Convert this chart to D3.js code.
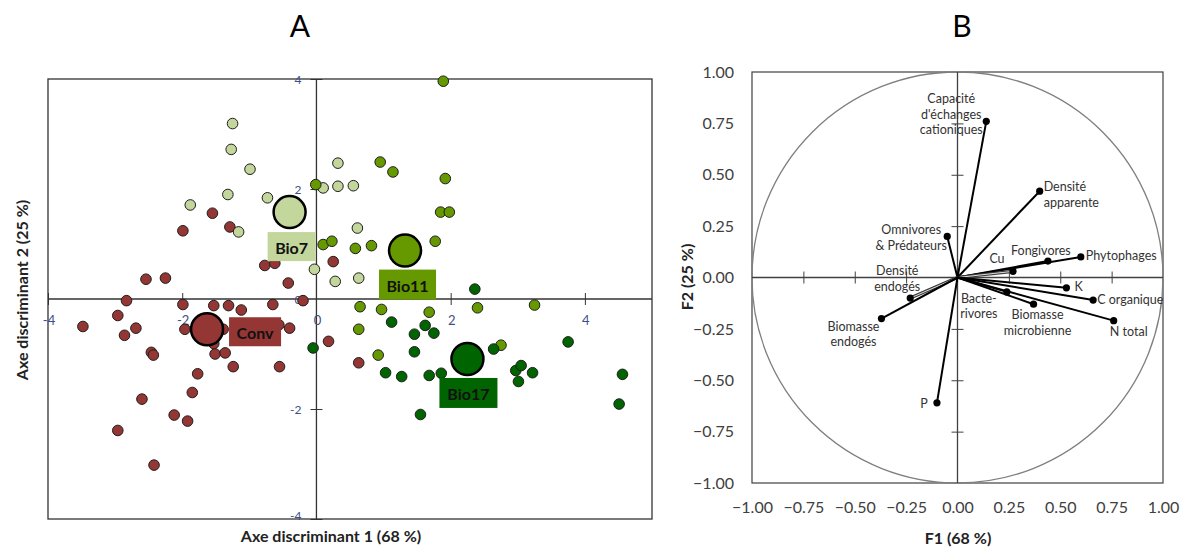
<!DOCTYPE html>
<html lang="fr">
<head>
<meta charset="utf-8">
<title>AFD / ACP</title>
<script src="https://cdn.jsdelivr.net/npm/d3@7"></script>
<style>
  body { margin: 0; background: #fff; }
  text { font-family: Lato, "Open Sans", sans-serif; }
</style>
</head>
<body>
<script>
// ---- data, panel A (discriminant scores) ----
var groups = ["Conv", "Bio7", "Bio11", "Bio17"];

var convPts = [[-1.55,1.56],[-1.29,1.31],[-1.99,1.24],[-0.77,0.61],[-0.62,0.65],[0.25,0.68],[-0.42,0.29],
  [-2.54,0.36],[-2.25,0.38],[-2.83,-0.03],[-1.99,-0.10],[-1.53,-0.12],[-1.31,-0.12],[-1.12,-0.20],[-0.65,-0.10],
  [-0.20,-0.03],[-2.96,-0.30],[-3.48,-0.50],[-2.69,-0.53],[-2.86,-0.66],[-1.96,-0.55],[-1.39,-0.55],[-1.53,-0.81],
  [-0.56,-0.47],[-0.40,-0.53],[0.18,-0.77],[-2.46,-0.97],[-2.43,-1.02],[-1.51,-1.00],[-1.36,-0.98],[-1.24,-1.23],
  [-0.55,-1.23],[-1.77,-1.36],[-1.85,-1.70],[-2.60,-1.82],[-2.12,-2.11],[-1.92,-2.22],[-2.96,-2.39],[-2.42,-3.02],
  [0.63,-1.16]];
var bio7Pts = [[-1.25,3.19],[-1.27,2.72],[-0.99,2.36],[-1.32,1.90],[-0.73,1.84],[-1.88,1.71],[-1.16,1.22],
  [-0.03,0.54],[0.10,2.02],[0.32,2.05],[0.32,2.47],[0.28,0.32],[0.55,2.06],[0.61,1.29],[0.63,0.38]];
var bio11Pts = [[1.89,3.96],[0.95,2.49],[1.14,2.31],[1.92,2.19],[-0.01,2.08],[1.85,1.58],[1.98,1.58],
  [0.10,0.99],[0.23,1.05],[0.58,0.92],[0.82,0.97],[1.77,1.05],[0.65,-0.14],[0.97,-0.19],[1.68,-0.24],
  [2.40,-0.16],[3.25,-0.11],[0.63,-0.55],[0.92,-1.02],[2.75,-0.84]];
var bio17Pts = [[2.36,0.18],[1.12,-0.42],[1.62,-0.48],[1.46,-0.64],[1.75,-0.62],[-0.05,-0.89],[1.46,-0.96],
  [2.64,-0.91],[3.75,-0.78],[1.03,-1.34],[1.27,-1.41],[1.68,-1.39],[1.86,-1.35],[2.97,-1.30],[3.05,-1.21],
  [3.01,-1.50],[3.22,-1.34],[4.56,-1.37],[4.51,-1.91],[1.55,-2.10]];
var centroidX = [-1.63, -0.40, 1.32, 2.25];
var centroidY = [-0.55, 1.58, 0.88, -1.09];
var ticksA = [-4, -2, 0, 2, 4];

// ---- data, panel B (correlation circle) ----
var varLabels = [
  ["Capacité", "d'échanges", "cationiques"],
  ["Densité", "apparente"],
  ["Omnivores", "& Prédateurs"],
  ["Fongivores"],
  ["Phytophages"],
  ["Cu"],
  ["Densité", "endogés"],
  ["K"],
  ["C organique"],
  ["N total"],
  ["Bacte-", "rivores"],
  ["Biomasse", "microbienne"],
  ["Biomasse", "endogés"],
  ["P"]
];
var f1 = [0.14, 0.40, -0.05, 0.44, 0.60, 0.27, -0.23, 0.53, 0.66, 0.76, 0.24, 0.37, -0.37, -0.10];
var f2 = [0.76, 0.42, 0.20, 0.08, 0.10, 0.03, -0.10, -0.05, -0.11, -0.21, -0.07, -0.13, -0.20, -0.61];
var ticksB = [-1, -0.75, -0.5, -0.25, 0, 0.25, 0.5, 0.75, 1];

// ---- styles / layout ----
var groupColor = {Conv: "#943634", Bio7: "#c3d69b", Bio11: "#669900", Bio17: "#006400"};
// label box offset from the centroid: [dx, dy, width, height]
var boxLayout = {Conv: [22, -12, 52, 29], Bio7: [-22, 20, 48, 29], Bio11: [-26, 19, 57, 30], Bio17: [-28, 19, 58, 30]};
// variable label offset from arrow tip: [dx, dy of first line, anchor]
var labLayout = [[-35,-22,"middle"],[4,-4,"start"],[-36,-6,"middle"],[-7,-10,"middle"],[5,-1,"start"],
  [-16,-12,"middle"],[-13,-27,"middle"],[8,-1,"start"],[4,0,"start"],[15,11,"middle"],[-28,7,"middle"],
  [4,11,"middle"],[-28,8,"middle"],[-13,1,"middle"]];
// arrows drawn as a grey double line in the original
var doubledIdx = [5, 6];

var w = 1186, h = 549;
var svg = d3.select("body").append("svg").attr("width", w).attr("height", h);

// ================= Panel A =================
var xA = d3.scaleLinear().domain([-4, 5]).range([48, 652]);
var yA = d3.scaleLinear().domain([-4, 4]).range([519, 79]);
var gA = svg.append("g");

gA.append("rect")
  .attr("x", xA(-4)).attr("y", yA(4))
  .attr("width", xA(5) - xA(-4)).attr("height", yA(-4) - yA(4))
  .attr("fill", "none").attr("stroke", "#333").attr("stroke-width", 1.3);

// axes through origin
gA.append("line").attr("x1", xA(-4)).attr("x2", xA(5)).attr("y1", yA(0)).attr("y2", yA(0))
  .attr("stroke", "#333").attr("stroke-width", 1.3);
gA.append("line").attr("x1", xA(0)).attr("x2", xA(0)).attr("y1", yA(4)).attr("y2", yA(-4))
  .attr("stroke", "#333").attr("stroke-width", 1.3);

// crossing tick marks
gA.append("g").attr("transform", "translate(0," + (yA(0) - 6) + ")")
  .call(d3.axisBottom(xA).tickValues(ticksA.filter(function(d) { return d !== 0; })).tickSize(12).tickFormat(""))
  .call(function(g) { g.select(".domain").remove(); g.selectAll("line").attr("stroke", "#333"); });
gA.append("g").attr("transform", "translate(" + (xA(0) + 6) + ",0)")
  .call(d3.axisLeft(yA).tickValues(ticksA.filter(function(d) { return d !== 0; })).tickSize(12).tickFormat(""))
  .call(function(g) { g.select(".domain").remove(); g.selectAll("line").attr("stroke", "#333"); });

// tick labels
gA.selectAll("text.xt").data(ticksA).enter().append("text")
  .attr("class", "xt")
  .attr("x", function(d) { return xA(d) + 1; })
  .attr("y", yA(0) + 21)
  .attr("text-anchor", "middle").attr("dominant-baseline", "central")
  .attr("font-size", "13px").attr("fill", "#3d4f85")
  .text(function(d) { return d; });
gA.selectAll("text.yt").data(ticksA).enter().append("text")
  .attr("class", "yt")
  .attr("x", xA(0) - 15)
  .attr("y", function(d) { return d === -4 ? yA(d) - 4 : yA(d); })
  .attr("text-anchor", "end").attr("dominant-baseline", "central")
  .attr("font-size", "12px").attr("fill", "#3d4f85")
  .text(function(d) { return d; });

// points
var allPts = [convPts, bio7Pts, bio11Pts, bio17Pts];
groups.forEach(function(gname, i) {
  gA.append("g").selectAll("circle")
    .data(allPts[i]).enter().append("circle")
    .attr("cx", function(d) { return xA(d[0]); })
    .attr("cy", function(d) { return yA(d[1]); })
    .attr("r", 5.3)
    .attr("fill", groupColor[gname])
    .attr("stroke", "#1e1e1e").attr("stroke-width", 1);
});

// centroids
gA.selectAll("circle.cent").data(groups).enter().append("circle")
  .attr("class", "cent")
  .attr("cx", function(d, i) { return xA(centroidX[i]); })
  .attr("cy", function(d, i) { return yA(centroidY[i]); })
  .attr("r", 16)
  .attr("fill", function(d) { return groupColor[d]; })
  .attr("stroke", "#000").attr("stroke-width", 2.5);

// group labels
var labs = gA.selectAll("g.glab").data(groups).enter().append("g").attr("class", "glab")
  .attr("transform", function(d, i) {
    var b = boxLayout[d];
    return "translate(" + (xA(centroidX[i]) + b[0]) + "," + (yA(centroidY[i]) + b[1]) + ")";
  });
labs.append("rect")
  .attr("width", function(d) { return boxLayout[d][2]; })
  .attr("height", function(d) { return boxLayout[d][3]; })
  .attr("fill", function(d) { return groupColor[d]; });
labs.append("text")
  .attr("x", function(d) { return boxLayout[d][2] / 2; })
  .attr("y", function(d) { return boxLayout[d][3] / 2 + 1; })
  .attr("text-anchor", "middle").attr("dominant-baseline", "central")
  .attr("font-size", "16px").attr("font-weight", "bold").attr("fill", "#111")
  .text(function(d) { return d; });

// titles
svg.append("text").attr("x", 300).attr("y", 25).attr("text-anchor", "middle")
  .attr("dominant-baseline", "central").attr("font-size", "30px").attr("fill", "#000").text("A");
svg.append("text").attr("x", 331).attr("y", 535).attr("text-anchor", "middle")
  .attr("dominant-baseline", "central").attr("font-size", "16px").attr("font-weight", "bold")
  .attr("fill", "#222").text("Axe discriminant 1 (68 %)");
svg.append("text").attr("transform", "translate(21,290) rotate(-90)").attr("text-anchor", "middle")
  .attr("dominant-baseline", "central").attr("font-size", "16px").attr("font-weight", "bold")
  .attr("fill", "#222").text("Axe discriminant 2 (25 %)");

// ================= Panel B =================
var xB = d3.scaleLinear().domain([-1, 1]).range([752, 1163]);
var yB = d3.scaleLinear().domain([-1, 1]).range([483, 72]);
var gB = svg.append("g");

gB.append("rect")
  .attr("x", xB(-1)).attr("y", yB(1))
  .attr("width", xB(1) - xB(-1)).attr("height", yB(-1) - yB(1))
  .attr("fill", "none").attr("stroke", "#404040").attr("stroke-width", 1.2);

gB.append("circle")
  .attr("cx", xB(0)).attr("cy", yB(0)).attr("r", xB(1) - xB(0))
  .attr("fill", "none").attr("stroke", "#7f7f7f").attr("stroke-width", 1.3);

gB.append("line").attr("x1", xB(-1)).attr("x2", xB(1)).attr("y1", yB(0)).attr("y2", yB(0))
  .attr("stroke", "#404040").attr("stroke-width", 1.3);
gB.append("line").attr("x1", xB(0)).attr("x2", xB(0)).attr("y1", yB(1)).attr("y2", yB(-1))
  .attr("stroke", "#404040").attr("stroke-width", 1.3);

var innerTicks = ticksB.filter(function(d) { return Math.abs(d) !== 1 && d !== 0; });
gB.append("g").attr("transform", "translate(0," + (yB(0) - 6) + ")")
  .call(d3.axisBottom(xB).tickValues(innerTicks).tickSize(12).tickFormat(""))
  .call(function(g) { g.select(".domain").remove(); g.selectAll("line").attr("stroke", "#404040"); });
gB.append("g").attr("transform", "translate(" + (xB(0) + 6) + ",0)")
  .call(d3.axisLeft(yB).tickValues(innerTicks).tickSize(12).tickFormat(""))
  .call(function(g) { g.select(".domain").remove(); g.selectAll("line").attr("stroke", "#404040"); });

// outer tick labels
gB.append("g").attr("transform", "translate(" + xB(-1) + ",0)")
  .call(d3.axisLeft(yB).tickValues(ticksB).tickSize(0).tickPadding(18).tickFormat(d3.format(".2f")))
  .call(function(g) {
    g.select(".domain").remove();
    g.selectAll("text").attr("font-size", "16px").attr("fill", "#404040").attr("font-family", "Lato");
  });
gB.append("g").attr("transform", "translate(0," + yB(-1) + ")")
  .call(d3.axisBottom(xB).tickValues(ticksB).tickSize(0).tickPadding(19).tickFormat(d3.format(".2f")))
  .call(function(g) {
    g.select(".domain").remove();
    g.selectAll("text").attr("font-size", "16px").attr("fill", "#404040").attr("font-family", "Lato");
  });

// vectors
var vec = gB.selectAll("g.vec").data(varLabels).enter().append("g").attr("class", "vec");
vec.append("line")
  .attr("x1", xB(0)).attr("y1", yB(0))
  .attr("x2", function(d, i) { return xB(f1[i]); })
  .attr("y2", function(d, i) { return yB(f2[i]); })
  .attr("stroke", function(d, i) { return doubledIdx.indexOf(i) >= 0 ? "#3a3a3a" : "#000"; })
  .attr("stroke-width", function(d, i) { return doubledIdx.indexOf(i) >= 0 ? 3.2 : 2; });
vec.filter(function(d, i) { return doubledIdx.indexOf(i) >= 0; })
  .append("line")
  .attr("x1", xB(0)).attr("y1", yB(0))
  .attr("x2", function(d) { return xB(f1[varLabels.indexOf(d)]); })
  .attr("y2", function(d) { return yB(f2[varLabels.indexOf(d)]); })
  .attr("stroke", "#ddd").attr("stroke-width", 1);
vec.append("circle")
  .attr("cx", function(d, i) { return xB(f1[i]); })
  .attr("cy", function(d, i) { return yB(f2[i]); })
  .attr("r", 3.6).attr("fill", "#000");

vec.each(function(d, i) {
  var lay = labLayout[i];
  var t = d3.select(this).append("text")
    .attr("text-anchor", lay[2])
    .attr("font-size", "12.5px").attr("fill", "#333");
  d.forEach(function(line, k) {
    t.append("tspan")
      .attr("x", xB(f1[i]) + lay[0])
      .attr("y", yB(f2[i]) + lay[1] + k * 15.5 + 4)
      .text(line);
  });
});

svg.append("text").attr("x", 962).attr("y", 25).attr("text-anchor", "middle")
  .attr("dominant-baseline", "central").attr("font-size", "30px").attr("fill", "#000").text("B");
svg.append("text").attr("x", 958).attr("y", 537).attr("text-anchor", "middle")
  .attr("dominant-baseline", "central").attr("font-size", "16px").attr("font-weight", "bold")
  .attr("fill", "#222").text("F1 (68 %)");
svg.append("text").attr("transform", "translate(686,277) rotate(-90)").attr("text-anchor", "middle")
  .attr("dominant-baseline", "central").attr("font-size", "16px").attr("font-weight", "bold")
  .attr("fill", "#222").text("F2 (25 %)");
</script>
</body>
</html>
